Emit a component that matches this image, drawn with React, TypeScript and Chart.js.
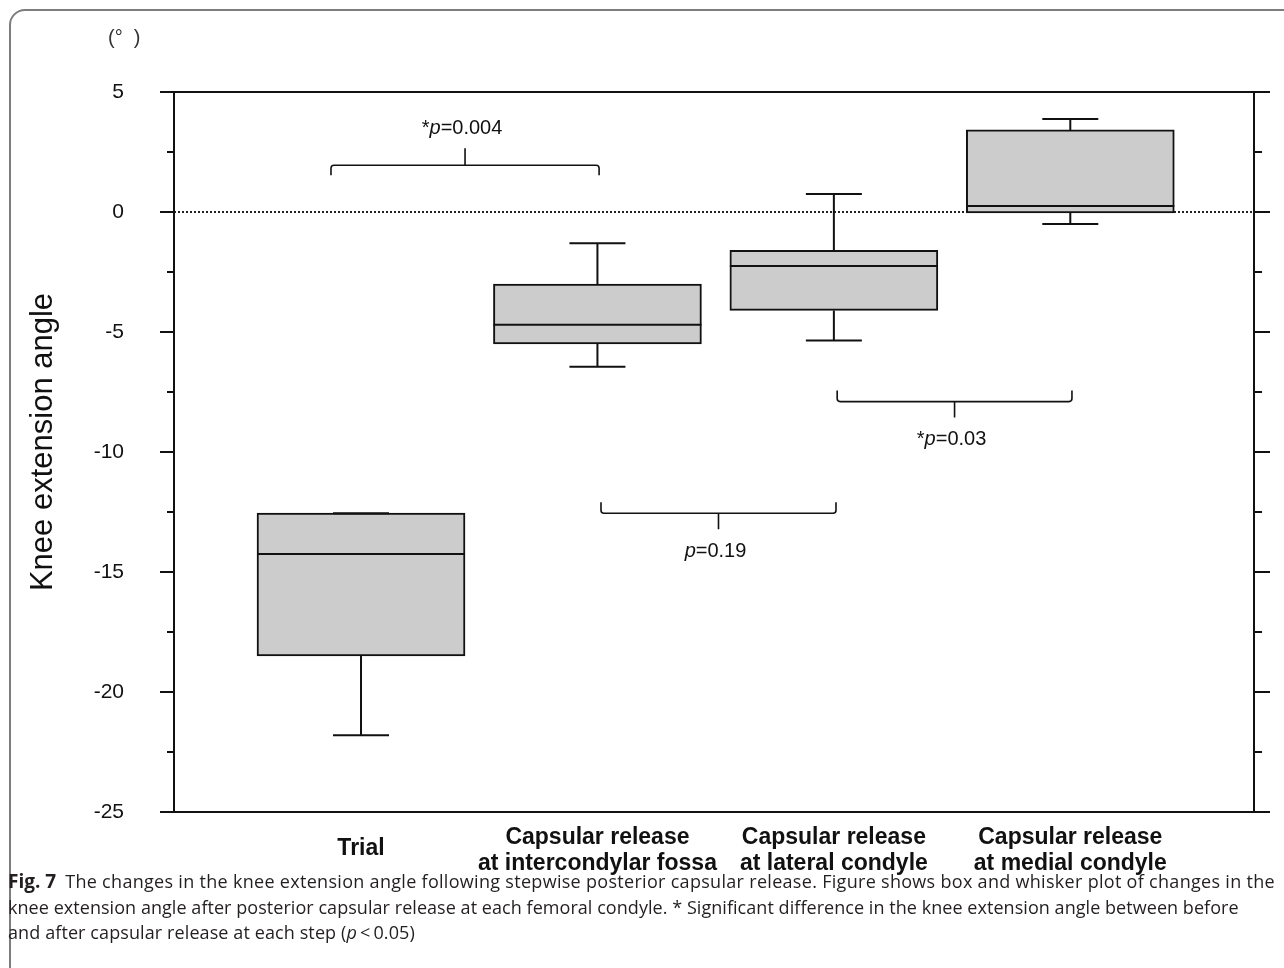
import React, { useEffect, useRef } from 'react';
import { Chart, registerables } from 'chart.js';

Chart.register(...registerables);

// categories (multi-line labels)
const categories: string[][] = [
  ['Trial'],
  ['Capsular release', 'at intercondylar fossa'],
  ['Capsular release', 'at lateral condyle'],
  ['Capsular release', 'at medial condyle'],
];

// box plot values (degrees)
const whiskerLow = [-21.8, -6.45, -5.35, -0.5];
const boxLow = [-18.5, -5.5, -4.1, -0.04];
const medians = [-14.25, -4.7, -2.25, 0.25];
const boxHigh = [-12.55, -3.0, -1.6, 3.42];
const whiskerHigh = [-12.55, -1.3, 0.75, 3.88];

// y ticks
const yMin = -25;
const yMax = 5;
const yStep = 2.5;

// significance brackets (category index span, level in degrees)
const bracketFrom = [-0.127, 2.014, 1.015];
const bracketTo = [1.007, 3.007, 2.009];
const bracketLevel = [1.95, -7.9, -12.55];
const bracketUp = [true, false, false];
const bracketStar = [true, true, false];
const bracketP = ['0.004', '0.03', '0.19'];

const xMin = -0.791;
const xMax = 3.777;

const FONT = '"Liberation Sans", Arial, Helvetica, sans-serif';

const extrasPlugin = {
  id: 'boxExtras',
  beforeDatasetsDraw(chart: any) {
    const { ctx, chartArea, scales } = chart;
    const y0 = scales.y.getPixelForValue(0);
    ctx.save();
    ctx.strokeStyle = '#222';
    ctx.lineWidth = 2;
    ctx.setLineDash([2, 2]);
    ctx.beginPath();
    ctx.moveTo(chartArea.left, y0);
    ctx.lineTo(chartArea.right, y0);
    ctx.stroke();
    ctx.restore();
  },
  afterDatasetsDraw(chart: any) {
    const { ctx, chartArea, scales } = chart;
    const { x, y } = scales;
    const meta = chart.getDatasetMeta(0);
    ctx.save();
    ctx.strokeStyle = '#111';
    ctx.lineWidth = 2;

    // whiskers and medians
    meta.data.forEach((bar: any, i: number) => {
      const cx = x.getPixelForValue(i);
      const capHalf = 28;
      const lines: [number, number][] = [
        [boxHigh[i], whiskerHigh[i]],
        [boxLow[i], whiskerLow[i]],
      ];
      lines.forEach(([from, to]) => {
        const p1 = y.getPixelForValue(from);
        const p2 = y.getPixelForValue(to);
        ctx.beginPath();
        ctx.moveTo(cx, p1);
        ctx.lineTo(cx, p2);
        ctx.moveTo(cx - capHalf, p2);
        ctx.lineTo(cx + capHalf, p2);
        ctx.stroke();
      });
      const pm = y.getPixelForValue(medians[i]);
      ctx.beginPath();
      ctx.moveTo(bar.x - bar.width / 2, pm);
      ctx.lineTo(bar.x + bar.width / 2, pm);
      ctx.stroke();
    });

    // axes frame
    const { left, right, top, bottom } = chartArea;
    ctx.beginPath();
    ctx.moveTo(left, top - 1);
    ctx.lineTo(left, bottom + 1);
    ctx.moveTo(right, top - 1);
    ctx.lineTo(right, bottom + 1);
    ctx.stroke();
    y.ticks.forEach((t: any) => {
      const py = y.getPixelForValue(t.value);
      const major = Math.abs(t.value % 5) < 1e-6;
      ctx.beginPath();
      ctx.moveTo(left - (major ? 14 : 7), py);
      ctx.lineTo(major && (t.value === yMax || t.value === yMin) ? right + 16 : left, py);
      ctx.moveTo(right, py);
      ctx.lineTo(right + (major ? 16 : 8), py);
      ctx.stroke();
    });

    // category labels below the axis
    ctx.fillStyle = '#111';
    ctx.font = `bold 23px ${FONT}`;
    ctx.textAlign = 'center';
    ctx.textBaseline = 'middle';
    categories.forEach((lines, i) => {
      const cx = x.getPixelForValue(i);
      const mid = bottom + (lines.length > 1 ? 39 : 37);
      lines.forEach((ln, j) => {
        ctx.fillText(ln, cx, mid + (j - (lines.length - 1) / 2) * 26);
      });
    });

    // brackets
    bracketFrom.forEach((fromV, i) => {
      const xa = x.getPixelForValue(fromV);
      const xb = x.getPixelForValue(bracketTo[i]);
      const yl = y.getPixelForValue(bracketLevel[i]);
      const up = bracketUp[i];
      const leg = up ? 10 : -11;
      const r = 3;
      const s = Math.sign(leg);
      ctx.lineWidth = 1.6;
      ctx.beginPath();
      ctx.moveTo(xa, yl + leg);
      ctx.lineTo(xa, yl + s * r);
      ctx.quadraticCurveTo(xa, yl, xa + r, yl);
      ctx.lineTo(xb - r, yl);
      ctx.quadraticCurveTo(xb, yl, xb, yl + s * r);
      ctx.lineTo(xb, yl + leg);
      const xm = (xa + xb) / 2;
      const tip = up ? -17 : 16;
      ctx.moveTo(xm, yl);
      ctx.lineTo(xm, yl + tip);
      ctx.stroke();

      // label: *p=value
      const ty = yl + tip + (up ? -20 : 22);
      const parts = [
        { t: bracketStar[i] ? '*' : '', f: `20px ${FONT}` },
        { t: 'p', f: `italic 20px ${FONT}` },
        { t: '=' + bracketP[i], f: `20px ${FONT}` },
      ];
      let w = 0;
      parts.forEach((p) => {
        ctx.font = p.f;
        w += ctx.measureText(p.t).width;
      });
      let tx = xm - w / 2 - 3;
      ctx.fillStyle = '#111';
      ctx.textBaseline = 'middle';
      ctx.textAlign = 'left';
      parts.forEach((p) => {
        ctx.font = p.f;
        ctx.fillText(p.t, tx, ty);
        tx += ctx.measureText(p.t).width;
      });
    });

    // y axis title
    ctx.translate(43, 442);
    ctx.rotate(-Math.PI / 2);
    ctx.font = `31px ${FONT}`;
    ctx.textAlign = 'center';
    ctx.textBaseline = 'middle';
    ctx.fillStyle = '#111';
    ctx.fillText('Knee extension angle', 0, 0);
    ctx.restore();
  },
};

const App: React.FC = () => {
  const canvasRef = useRef<HTMLCanvasElement | null>(null);
  const chartRef = useRef<Chart | null>(null);

  useEffect(() => {
    const ctx = canvasRef.current?.getContext('2d');
    if (!ctx) return;
    if (chartRef.current) chartRef.current.destroy();
    chartRef.current = new Chart(ctx, {
      type: 'bar',
      data: {
        datasets: [
          {
            data: boxLow.map((lo, i) => ({ x: i, y: [lo, boxHigh[i]] })) as any,
            backgroundColor: '#cccccc',
            borderColor: '#111',
            borderWidth: 2,
            borderSkipped: false,
            barThickness: 208,
          },
        ],
      },
      options: {
        animation: false,
        responsive: true,
        maintainAspectRatio: false,
        events: [],
        layout: { padding: { top: 92, right: 30, left: 0, bottom: 0 } },
        plugins: { legend: { display: false }, tooltip: { enabled: false } },
        scales: {
          x: {
            type: 'linear',
            min: xMin,
            max: xMax,
            offset: false,
            grid: { display: false },
            border: { display: false },
            afterFit: (s: any) => {
              s.height = 64;
            },
            ticks: { display: false },
          },
          y: {
            min: yMin,
            max: yMax,
            grid: { display: false },
            border: { display: false },
            afterFit: (s: any) => {
              s.width = 174;
            },
            ticks: {
              stepSize: yStep,
              padding: 42,
              color: '#111',
              font: { family: FONT, size: 21 },
              callback: (v: any) => (Math.abs(v % 5) < 1e-6 ? String(v) : ''),
            },
          },
        },
      },
      plugins: [extrasPlugin],
    });
    return () => {
      if (chartRef.current) {
        chartRef.current.destroy();
        chartRef.current = null;
      }
    };
  }, []);

  return (
    <div style={{ position: 'fixed', left: 0, top: 0, width: 1284, height: 968, background: '#fff', overflow: 'hidden' }}>
      <div
        style={{
          position: 'absolute',
          left: 9,
          top: 9,
          width: 1300,
          height: 980,
          border: '2px solid #7d7d7d',
          borderTopLeftRadius: 16,
          boxSizing: 'border-box',
        }}
      />
      <div style={{ position: 'absolute', left: 0, top: 0, width: 1284, height: 876 }}>
        <canvas ref={canvasRef} />
      </div>
      <span
        style={{
          position: 'absolute',
          left: 108,
          top: 26,
          font: `20px ${FONT}`,
          color: '#333',
          whiteSpace: 'pre',
        }}
      >
        {'(°  )'}
      </span>
      <div
        style={{
          position: 'absolute',
          left: 8,
          top: 869,
          font: '18px "Open Sans", Roboto, sans-serif',
          lineHeight: '25.5px',
          color: '#231f20',
          whiteSpace: 'nowrap',
        }}
      >
        <div style={{ letterSpacing: '0.3px' }}>
          <b style={{ marginRight: 9, fontSize: 19, letterSpacing: 0 }}>Fig. 7</b>The changes in the knee extension angle following stepwise posterior capsular release. Figure shows box and whisker plot of changes in the
        </div>
        <div style={{ letterSpacing: '0.05px' }}>
          knee extension angle after posterior capsular release at each femoral condyle. * Significant difference in the knee extension angle between before
        </div>
        <div style={{ letterSpacing: '0.1px' }}>
          and after capsular release at each step (<i>p</i>{'\u2009<\u20090.05)'}
        </div>
      </div>
    </div>
  );
};

export default App;
